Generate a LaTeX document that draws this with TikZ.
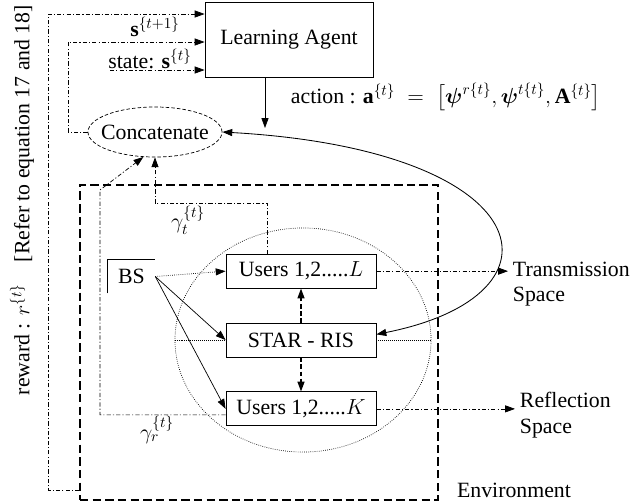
\RequirePackage{fix-cm}
\documentclass[tikz,border=0pt]{standalone}
\usepackage{amsmath,amssymb}
\usepackage{fontspec}
\setmainfont{Liberation Serif}
\usepackage{tikz}
\usetikzlibrary{arrows.meta}
\usetikzlibrary{shapes.geometric}
\usetikzlibrary{positioning}
\tikzset{
  >={Triangle[length=7pt,width=5pt]},
  caixa/.style={draw, line width=0.6pt, minimum width=#1, minimum height=0.85cm, inner sep=2pt},
  caixa/.default=3.75cm,
  seta/.style={->, line width=0.5pt},
  retro/.style={->, dash pattern=on 3pt off 1.5pt on 0.8pt off 1.5pt, line width=0.5pt},
}

\begin{document}
\begin{tikzpicture}[x=0.025cm, y=-0.025cm, font=\fontsize{15.5}{18}\selectfont,
  elipse/.style={ellipse, draw, dash pattern=on 2.5pt off 1.5pt, line width=0.5pt, minimum width=3.35cm, minimum height=1.25cm, inner sep=0pt},
  zona/.style={ellipse, draw, densely dotted, line width=0.5pt, minimum width=6.4cm, minimum height=5.6cm},
  amb/.style={draw, dash pattern=on 6pt off 3pt, line width=0.9pt, minimum width=8.95cm, minimum height=7.875cm},
  ponto/.style={->, densely dotted, line width=0.5pt},
  tracejada/.style={->, dash pattern=on 3pt off 2pt, line width=0.9pt},
  node distance=0.85cm]
  \useasboundingbox (0,0) rectangle (630,502);
  \node[amb] (env) at (259,342.5) {};
  \node[zona] (cell) at (303,340) {};
  \node[caixa=4.2cm, minimum height=1.875cm] (agent) at (289,39.5) {Learning Agent};
  \node[elipse, label=center:Concatenate] (concat) at (155,132) {};
  \node[caixa] (ris) at (301,340) {STAR - RIS};
  \node[caixa, above=of ris] (usersL) {Users 1,2.....$L$};
  \node[caixa, below=of ris] (usersK) {Users 1,2.....$K$};
  \node[minimum width=1.175cm, minimum height=0.825cm, inner sep=0pt] (bs) at (131.5,276.5) {BS};
  \draw[line width=0.6pt] (bs.south west) |- (bs.north east);
  \node[align=left, anchor=west] (trans) at (508,284) {Transmission\\Space};
  \node[align=left, anchor=west] (refl) at (515,415) {Reflection\\Space};
  \node (envlbl) at (514,490) {Environment};
  % action and state
  \coordinate (acao) at (265,128);
  \draw[seta] (acao |- agent.south) -- (acao);
  \node (acaolbl) at (446,97) {action : $\mathbf{a}^{\{t\}}\;=\;\big[\boldsymbol{\psi}^{r\{t\}}, \boldsymbol{\psi}^{t\{t\}}, \mathbf{A}^{\{t\}}\big]$};
  \draw[<->, line width=0.6pt] (concat.east) .. controls (540,150) and (575,295) .. ([yshift=4pt]ris.east);
  \coordinate (rw) at (48,490);
  \draw[retro] (rw -| env.west) -- (rw) |- ([shift={(0,-25.5)}]agent.west);
  \coordinate (sn) at (68,132);
  \draw[retro] (concat.west) -- (sn) |- ([shift={(0,2.5)}]agent.west);
  \coordinate (st) at (110,70);
  \draw[retro] (st) -- (st -| agent.west);
  \node (snlbl) at (155,27) {$\mathbf{s}^{\{t+1\}}$};
  \node (stlbl) at (150,59) {state: $\mathbf{s}^{\{t\}}$};
  \node[rotate=90] (rwlbl) at (22,200) {reward : $r^{\{t\}}$\quad [Refer to equation 17 and 18]};
  % environment links
  \draw[ponto] (bs.east) -- (usersL.west);
  \draw[seta] (bs.east) -- (ris.west);
  \draw[seta] (bs.east) -- (usersK.west);
  \draw[tracejada] (ris.north) -- (usersL.south);
  \draw[tracejada] (ris.south) -- (usersK.north);
  \draw[densely dotted] (cell.west) -- (ris.west);
  \draw[densely dotted] (ris.east) -- (cell.east);
  \coordinate (gt) at (267,203);
  \draw[retro] (gt |- usersL.north) -- (gt) -| (concat.south);
  \coordinate (gr) at (100,190);
  \draw[retro] ([shift={(0,6)}]usersK.west) -| (gr) -- (concat.-115);
  \node (gtlbl) at (188,220) {$\gamma_t^{\{t\}}$};
  \node (grlbl) at (157,430) {$\gamma_r^{\{t\}}$};
  \draw[retro] (usersL.east) -- (usersL.east -| trans.west);
  \draw[retro] (usersK.east) -- (usersK.east -| refl.west);
\end{tikzpicture}
\end{document}
